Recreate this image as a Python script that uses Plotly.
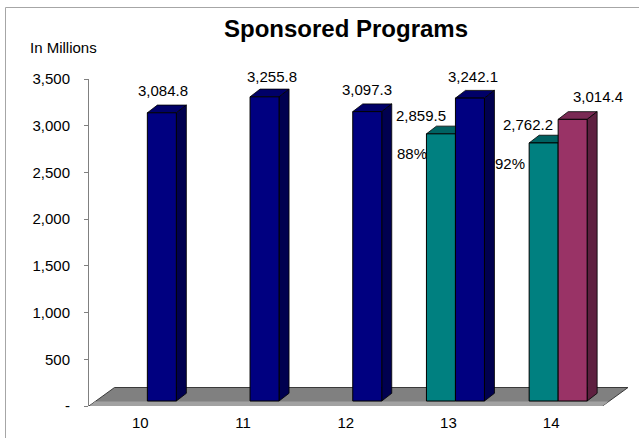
import plotly.graph_objects as go

# ---- data -------------------------------------------------------------
years = ["10", "11", "12", "13", "14"]
year_to_date = [None, None, None, 2859.5, 2762.2]
full_year = [3084.8, 3255.8, 3097.3, 3242.1, None]
projected = [None, None, None, None, 3014.4]
y_ticks = [0, 500, 1000, 1500, 2000, 2500, 3000, 3500]
y_tick_text = ["-", "500", "1,000", "1,500", "2,000", "2,500", "3,000", "3,500"]

# ---- geometry (pixels) -------------------------------------------------
FIG_W, FIG_H = 639, 438
M_L, M_R, M_T, M_B = 89, 9, 79, 32
PLOT_W = FIG_W - M_L - M_R
PLOT_H = FIG_H - M_T - M_B
CAT_PX = 102.7                      # width of one category slot
X0 = -0.5
X1 = X0 + PLOT_W / CAT_PX
Y_MAX = 3500
UX = 1 / CAT_PX                     # category units per pixel
UY = Y_MAX / PLOT_H                 # value units per pixel

BAR_SHIFT_X, BAR_SHIFT_Y = 7, 5     # bars stand a bit behind the floor's front edge
DEPTH_X, DEPTH_Y = 10, 7.7          # bar depth (oblique projection)
FLOOR_DX, FLOOR_DY = 25.5, 18.5     # floor depth
BAND_H = 4.5                        # lighter front strip of the floor
BAR_W = 29 * UX

FONT = "Liberation Sans, Arial, sans-serif"

x_idx = list(range(len(years)))

# series: values, slot offset, front / top / side colours
series = [
    dict(name="Year to date", y=year_to_date, offset=-BAR_W,
         front="#008080", top="#006262", side="#004d4d"),
    dict(name="Full year", y=full_year, offset=0.0,
         front="#000080", top="#000068", side="#00004f"),
    dict(name="Projected", y=projected, offset=0.0,
         front="#993366", top="#7a2a54", side="#5e2040"),
]


def right_slot_value(i):
    for s in series[1:]:
        if s["y"][i] is not None:
            return s["y"][i]
    return None


fig = go.Figure()

for s in series:
    fig.add_trace(go.Bar(
        x=x_idx, y=s["y"], name=s["name"],
        offset=s["offset"], width=BAR_W,
        marker=dict(color=s["front"], line=dict(color="black", width=1)),
        xaxis="x2", yaxis="y2", showlegend=False,
        hovertemplate="%{y:,.1f}<extra>" + s["name"] + "</extra>",
    ))

shapes = []

# floor
fx, fy = FLOOR_DX * UX, FLOOR_DY * UY
floor_pts = [(X0, 0), (X0 + 5, 0), (X0 + 5 + fx, fy), (X0 + fx, fy)]
shapes.append(dict(
    type="path", xref="x", yref="y", layer="below",
    path="M " + " L ".join(f"{a},{b}" for a, b in floor_pts) + " Z",
    fillcolor="#808080", line=dict(color="#3a3a3a", width=1),
))
bx, by = BAND_H / FLOOR_DY * fx, BAND_H * UY
band_pts = [(X0 + 0.6 * UX, 0), (X0 + 5, 0), (X0 + 5 + bx, by), (X0 + bx, by)]
shapes.append(dict(
    type="path", xref="x", yref="y", layer="below",
    path="M " + " L ".join(f"{a},{b}" for a, b in band_pts) + " Z",
    fillcolor="#a2a2a2", line=dict(width=0),
))

# top and side faces of every bar
dx, dy = DEPTH_X * UX, DEPTH_Y * UY
for s in series:
    for i, v in enumerate(s["y"]):
        if v is None:
            continue
        xl = i + s["offset"]
        xr = xl + BAR_W
        top = [(xl, v), (xr, v), (xr + dx, v + dy), (xl + dx, v + dy)]
        shapes.append(dict(
            type="path", xref="x2", yref="y2", layer="below",
            path="M " + " L ".join(f"{a},{b}" for a, b in top) + " Z",
            fillcolor=s["top"], line=dict(color="black", width=0.8),
        ))
        has_neighbour = s["offset"] < 0 and right_slot_value(i) is not None
        if not has_neighbour:
            side = [(xr, 0), (xr, v), (xr + dx, v + dy), (xr + dx, dy)]
            shapes.append(dict(
                type="path", xref="x2", yref="y2", layer="below",
                path="M " + " L ".join(f"{a},{b}" for a, b in side) + " Z",
                fillcolor=s["side"], line=dict(color="black", width=0.8),
            ))


def px_x(p):
    return (p - M_L) / PLOT_W


def px_y(p):
    return (M_T + PLOT_H - p) / PLOT_H


# chart frame
shapes.append(dict(
    type="rect", xref="paper", yref="paper",
    x0=px_x(5.5), x1=px_x(680), y0=px_y(470), y1=px_y(7.5),
    line=dict(color="#a6a6a6", width=1), fillcolor="rgba(0,0,0,0)", layer="below",
))

annotations = []

# value labels (pixel nudges keep neighbouring labels apart)
label_nudge = {
    "Year to date": {3: (-20, 18), 4: (-16, 18)},
    "Full year": {0: (1, 22), 1: (7, 20), 2: (0, 22), 3: (3, 22)},
    "Projected": {4: (25, 23)},
}
for s in series:
    for i, v in enumerate(s["y"]):
        if v is None:
            continue
        nx, ny = label_nudge[s["name"]][i]
        annotations.append(dict(
            x=i + s["offset"] + BAR_W / 2, y=v, xref="x2", yref="y2",
            text=f"{v:,.1f}", showarrow=False, xanchor="center", yanchor="middle",
            xshift=nx, yshift=ny, font=dict(family=FONT, size=15, color="black"),
        ))

# share of the year-to-date figure in the full-year figure
pct_nudge = {3: (-14, -20), 4: (-19, -21)}
for i, v in enumerate(year_to_date):
    total = right_slot_value(i)
    if v is None or total is None:
        continue
    nx, ny = pct_nudge[i]
    annotations.append(dict(
        x=i - BAR_W, y=v, xref="x2", yref="y2",
        text=f"{v / total:.0%}", showarrow=False, xanchor="center", yanchor="middle",
        xshift=nx, yshift=ny, font=dict(family=FONT, size=15, color="black"),
    ))

annotations.append(dict(
    x=px_x(28), y=px_y(48), xref="paper", yref="paper",
    text="In Millions", showarrow=False, xanchor="left", yanchor="middle",
    font=dict(family=FONT, size=15, color="black"),
))

fig.update_layout(
    width=FIG_W, height=FIG_H,
    margin=dict(l=M_L, r=M_R, t=M_T, b=M_B, pad=0, autoexpand=False),
    paper_bgcolor="white", plot_bgcolor="rgba(0,0,0,0)",
    barmode="overlay",
    title=dict(text="<b>Sponsored Programs</b>", x=346 / FIG_W, y=1 - 29 / FIG_H,
               xanchor="center", yanchor="middle", xref="container", yref="container",
               font=dict(family=FONT, size=24, color="black"), automargin=False),
    xaxis=dict(range=[X0, X1], tickvals=x_idx, ticktext=years, showgrid=False,
               zeroline=False, showline=False, ticks="", ticklabelstandoff=6,
               automargin=False,
               tickfont=dict(family=FONT, size=15, color="black"), fixedrange=True),
    yaxis=dict(range=[0, Y_MAX], tickvals=y_ticks, ticktext=y_tick_text,
               showgrid=False, zeroline=False, showline=True, linecolor="#808080",
               linewidth=1, ticks="outside", ticklen=4, tickcolor="#808080",
               ticklabelstandoff=11, automargin=False,
               tickfont=dict(family=FONT, size=15, color="black"), fixedrange=True),
    xaxis2=dict(range=[X0 - BAR_SHIFT_X * UX, X1 - BAR_SHIFT_X * UX],
                overlaying="x", anchor="y2", visible=False, fixedrange=True),
    yaxis2=dict(range=[-BAR_SHIFT_Y * UY, Y_MAX - BAR_SHIFT_Y * UY],
                overlaying="y", anchor="x2", visible=False, fixedrange=True),
    shapes=shapes,
    annotations=annotations,
)

fig.write_html("out.html")
